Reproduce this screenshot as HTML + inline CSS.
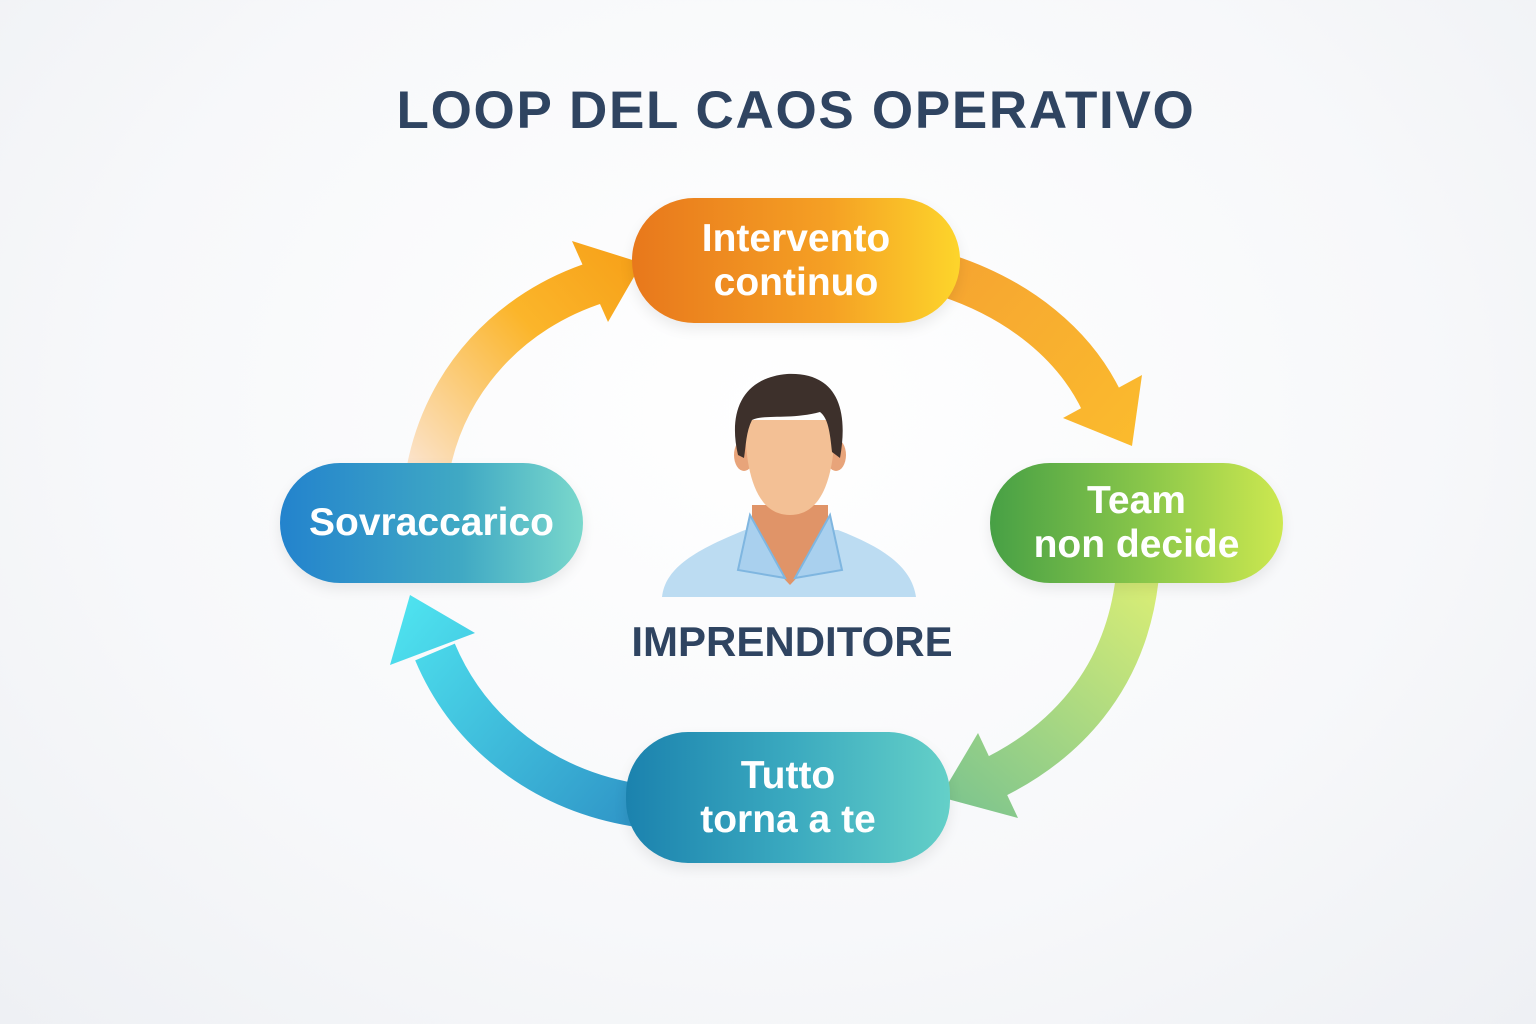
<!DOCTYPE html>
<html><head><meta charset="utf-8"><style>
html,body{margin:0;padding:0}
body{width:1536px;height:1024px;overflow:hidden;background:radial-gradient(ellipse at 50% 40%,#ffffff 0%,#f7f8fa 60%,#eef0f4 100%);position:relative;font-family:"Liberation Sans",sans-serif}
.t{position:absolute;left:0;width:1536px;text-align:center;font-weight:bold;color:#2f4461}
.pill{position:absolute;border-radius:62px;color:#fff;display:flex;align-items:center;justify-content:center;text-align:center;font-size:39px;font-weight:bold;line-height:44px;box-shadow:0 6px 14px rgba(0,0,0,0.08)}
</style></head><body>
<div class="t" style="top:80px;left:28px;font-size:53px;letter-spacing:1.7px;">LOOP DEL CAOS OPERATIVO</div>
<svg width="1536" height="1024" style="position:absolute;left:0;top:0">
<defs>
<linearGradient id="g1" gradientUnits="userSpaceOnUse" x1="420" y1="470" x2="640" y2="270"><stop offset="0" stop-color="#fbe2c8"/><stop offset="0.6" stop-color="#fbb52a"/><stop offset="1" stop-color="#f7a21a"/></linearGradient>
<linearGradient id="g2" gradientUnits="userSpaceOnUse" x1="950" y1="270" x2="1140" y2="440"><stop offset="0" stop-color="#f6a531"/><stop offset="1" stop-color="#fbbb2d"/></linearGradient>
<linearGradient id="g3" gradientUnits="userSpaceOnUse" x1="1140" y1="585" x2="950" y2="810"><stop offset="0" stop-color="#d6ec76"/><stop offset="1" stop-color="#7cc48e"/></linearGradient>
<linearGradient id="g4" gradientUnits="userSpaceOnUse" x1="635" y1="810" x2="400" y2="610"><stop offset="0" stop-color="#3097c8"/><stop offset="1" stop-color="#4ee2ef"/></linearGradient>
</defs>
<path d="M428,470 C445,380 510,310 598,282" stroke="url(#g1)" stroke-width="43" fill="none"/>
<polygon points="572,241 642,263 608,322" fill="url(#g1)"/>
<path d="M948,276 C1020,300 1075,345 1102,402" stroke="url(#g2)" stroke-width="43" fill="none"/>
<polygon points="1142,375 1132,446 1063,418" fill="url(#g2)"/>
<path d="M1137,580 C1125,680 1065,745 985,782" stroke="url(#g3)" stroke-width="43" fill="none"/>
<polygon points="978,733 940,797 1018,818" fill="url(#g3)"/>
<path d="M635,805 C545,790 470,735 435,652" stroke="url(#g4)" stroke-width="43" fill="none"/>
<polygon points="410,595 390,665 475,633" fill="url(#g4)"/>
<g>
<path d="M662,597 C665,570 690,552 745,530 L838,530 C890,550 912,570 916,597 Z" fill="#bcdcf2"/>
<path d="M752,505 L752,545 L790,585 L828,545 L828,505 Z" fill="#e09468"/>
<path d="M750,515 L738,570 L785,578 Z M830,515 L842,570 L795,578 Z" fill="#a9d0ee" stroke="#7fb6e0" stroke-width="2"/>
<ellipse cx="744" cy="455" rx="10" ry="16" fill="#e8a47a"/>
<ellipse cx="836" cy="455" rx="10" ry="16" fill="#e8a47a"/>
<path d="M745,420 C745,470 755,515 790,515 C825,515 835,470 835,420 Z" fill="#f3c095"/>
<path d="M738,455 C728,412 742,378 787,374 C832,372 850,402 840,458 L832,452 C830,432 828,418 820,412 C790,420 765,414 752,420 C746,432 746,445 744,458 Z" fill="#3d302b"/>
</g>
</svg>
<div class="pill" style="left:632px;top:198px;width:328px;height:125px;background:linear-gradient(90deg,#e8781c,#f5a024 60%,#fdd52b)">Intervento<br>continuo</div>
<div class="pill" style="left:990px;top:463px;width:293px;height:120px;background:linear-gradient(90deg,#47a045,#8cc84a 55%,#cde850)">Team<br>non decide</div>
<div class="pill" style="left:626px;top:732px;width:324px;height:131px;background:linear-gradient(90deg,#1b82ae,#3aa9bf 50%,#64d0c8)">Tutto<br>torna a te</div>
<div class="pill" style="left:280px;top:463px;width:303px;height:120px;background:linear-gradient(90deg,#2383cd,#40a9c4 60%,#7ad8cc)">Sovraccarico</div>
<div class="t" style="top:618px;left:24px;font-size:42px;">IMPRENDITORE</div>
</body></html>
